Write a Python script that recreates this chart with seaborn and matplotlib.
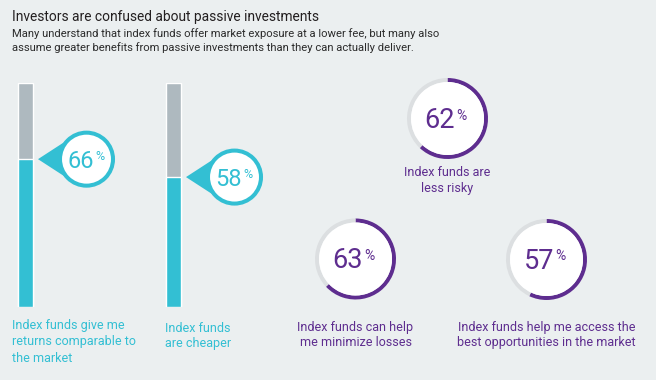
import matplotlib
matplotlib.use("Agg")
import matplotlib.pyplot as plt
from matplotlib.patches import Circle, Polygon
import pandas as pd
import seaborn as sns

# --- data ---
title = "Investors are confused about passive investments"
subtitle = ["Many understand that index funds offer market exposure at a lower fee, but many also",
            "assume greater benefits from passive investments than they can actually deliver."]

bar_labels = [["Index funds give me", "returns comparable to", "the market"],
              ["Index funds", "are cheaper"]]
bar_values = [66, 58]

ring_labels = [["Index funds are", "less risky"],
               ["Index funds can help", "me minimize losses"],
               ["Index funds help me access the", "best opportunities in the market"]]
ring_values = [62, 63, 57]

# --- style ---
W, H = 656, 380
BG = "#EBEFF0"
CYAN = "#33BFD3"
GRAY = "#AEB9BF"
PURPLE = "#5E2D8F"
TRACK = "#DCDFE1"

sns.set_style("white")
plt.rcParams["font.family"] = ["Roboto", "DejaVu Sans"]

fig = plt.figure(figsize=(6.56, 3.8), dpi=100, facecolor=BG)


def fig_box(x0, y0, w, h):
    # pixel box with top-left origin -> figure fraction
    return [x0 / W, 1 - (y0 + h) / H, w / W, h / H]


# bar panel, 0..100 % spans y 83..307 px
ax_bar = fig.add_axes(fig_box(0, 83, W, 224))
df = pd.DataFrame({"label": ["a", "b"], "value": bar_values})
df["full"] = 100
sns.barplot(data=df, x="label", y="full", color=GRAY, width=0.101,
            saturation=1, errorbar=None, ax=ax_bar)
sns.barplot(data=df, x="label", y="value", color=CYAN, width=0.101,
            saturation=1, errorbar=None, ax=ax_bar)
step = 148
ax_bar.set_xlim(-25.5 / step, (W - 25.5) / step)
ax_bar.set_ylim(0, 100)
ax_bar.axis("off")

# donut rings
ring_pos = [(447.5, 118.5), (355.5, 259), (546.5, 259.5)]
R = 40.5
ring_w = 4 / R
for (cx, cy), v in zip(ring_pos, ring_values):
    ax = fig.add_axes(fig_box(cx - R, cy - R, 2 * R, 2 * R))
    ax.pie([v, 100 - v], colors=[PURPLE, TRACK], startangle=90, counterclock=False,
           radius=1, wedgeprops=dict(width=ring_w, linewidth=0))
    ax.add_patch(Circle((0, 0), 1 - ring_w, color="white", lw=0))
    ax.set_xlim(-1, 1)
    ax.set_ylim(-1, 1)
    ax.axis("off")

# overlay in pixel coordinates
ov = fig.add_axes([0, 0, 1, 1])
ov.set_xlim(0, W)
ov.set_ylim(H, 0)
ov.axis("off")
ov.patch.set_alpha(0)

ov.text(12, 17, title, fontsize=9.9, color="#231F20", va="center", ha="left")
for k, line in enumerate(subtitle):
    ov.text(12, 34 + 14 * k, line, fontsize=8.1, color="#2B2B2B", va="center", ha="left")

# callouts on the bars
for i, v in enumerate(bar_values):
    px, py = ax_bar.transData.transform((i, v))
    bx, by = px, H - py
    cx = bx + 61
    ov.add_patch(Polygon([[bx + 12.5, by], [cx - 20, by - 18.5], [cx - 20, by + 18.5]],
                         closed=True, color=CYAN, lw=0))
    ov.add_patch(Circle((cx, by), 26.5, fc="white", ec=CYAN, lw=2.9))
    ov.text(cx + 7.5, by + 2.5, str(v), fontsize=17, color=CYAN,
            ha="right", va="center")
    ov.text(cx + 8.5, by - 3, "%", fontsize=9, color=CYAN,
            ha="left", va="center")

bar_label_pos = [(12, 326), (165, 328)]
for (lx, ly), lines in zip(bar_label_pos, bar_labels):
    for k, line in enumerate(lines):
        ov.text(lx, ly + 16 * k, line, fontsize=9, color=CYAN,
                ha="left", va="center")

# ring numbers and labels
ring_label_y = [173, 327, 327]
for (cx, cy), v, lines, ly in zip(ring_pos, ring_values, ring_labels, ring_label_y):
    ov.text(cx + 7.5, cy + 2, str(v), fontsize=19.5, color=PURPLE,
            ha="right", va="center")
    ov.text(cx + 9, cy - 3, "%", fontsize=10, color=PURPLE,
            ha="left", va="center")
    for k, line in enumerate(lines):
        ov.text(cx, ly + 15.5 * k, line, fontsize=9, color=PURPLE,
                ha="center", va="center")

fig.savefig("out.png", dpi=100, facecolor=BG)
